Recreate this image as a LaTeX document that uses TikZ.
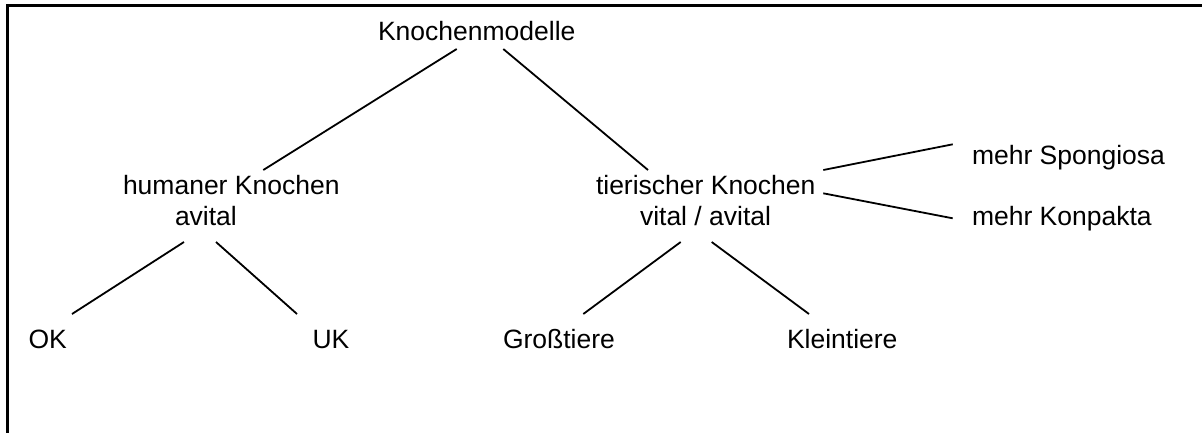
\documentclass[tikz,border=0pt]{standalone}
\usepackage{fontspec}
\setmainfont{Liberation Sans}
\begin{document}
\begin{tikzpicture}[x=1pt,y=-1pt,
  lbl/.style={anchor=base west,inner sep=0pt,outer sep=0pt,font=\fontsize{26.5}{30}\selectfont},
  conn/.style={line width=1.8pt,black},
  frame/.style={line width=2.2pt,black}]
\useasboundingbox (0,0) rectangle (1202,432);
\clip (0,0) rectangle (1202,432);
\fill[white] (0,0) rectangle (1202,432);
% frame (right and bottom edges lie outside the picture)
\draw[frame] (7.5,445) -- (7.5,5.5) -- (1215,5.5);
% labels
\node[lbl] (km) at (378,40) {Knochenmodelle};
\node[lbl] (humA) at (123,194) {humaner Knochen};
\node[lbl] (humB) at (175,225) {avital};
\node[lbl] (tierA) at (596,194) {tierischer Knochen};
\node[lbl] (tierB) at (640,225) {vital / avital};
\node[lbl] (ok) at (28.5,348) {OK};
\node[lbl] (uk) at (312.5,348) {UK};
\node[lbl] (gross) at (503,348) {Großtiere};
\node[lbl] (klein) at (787,348) {Kleintiere};
\node[lbl] (spong) at (972,164) {mehr Spongiosa};
\node[lbl] (konp) at (972,225.7) {mehr Konpakta};
% connector end points
\coordinate (kmL) at (456.7,49);
\coordinate (kmR) at (503.3,49);
\coordinate (humTop) at (263.3,170);
\coordinate (tierTop) at (648,170);
\coordinate (humBL) at (184,242);
\coordinate (humBR) at (216,242);
\coordinate (okTop) at (72,314);
\coordinate (ukTop) at (297,314);
\coordinate (tierBL) at (680.7,242);
\coordinate (tierBR) at (711.7,242);
\coordinate (grossTop) at (583.3,314);
\coordinate (kleinTop) at (809,314);
\coordinate (tierRU) at (823.3,170);
\coordinate (tierRD) at (823.3,193.3);
\coordinate (spongL) at (952.7,144.3);
\coordinate (konpL) at (952.7,218.3);
% connectors
\draw[conn] (kmL) -- (humTop);
\draw[conn] (kmR) -- (tierTop);
\draw[conn] (humBL) -- (okTop);
\draw[conn] (humBR) -- (ukTop);
\draw[conn] (tierBL) -- (grossTop);
\draw[conn] (tierBR) -- (kleinTop);
\draw[conn] (tierRU) -- (spongL);
\draw[conn] (tierRD) -- (konpL);
\end{tikzpicture}
\end{document}
